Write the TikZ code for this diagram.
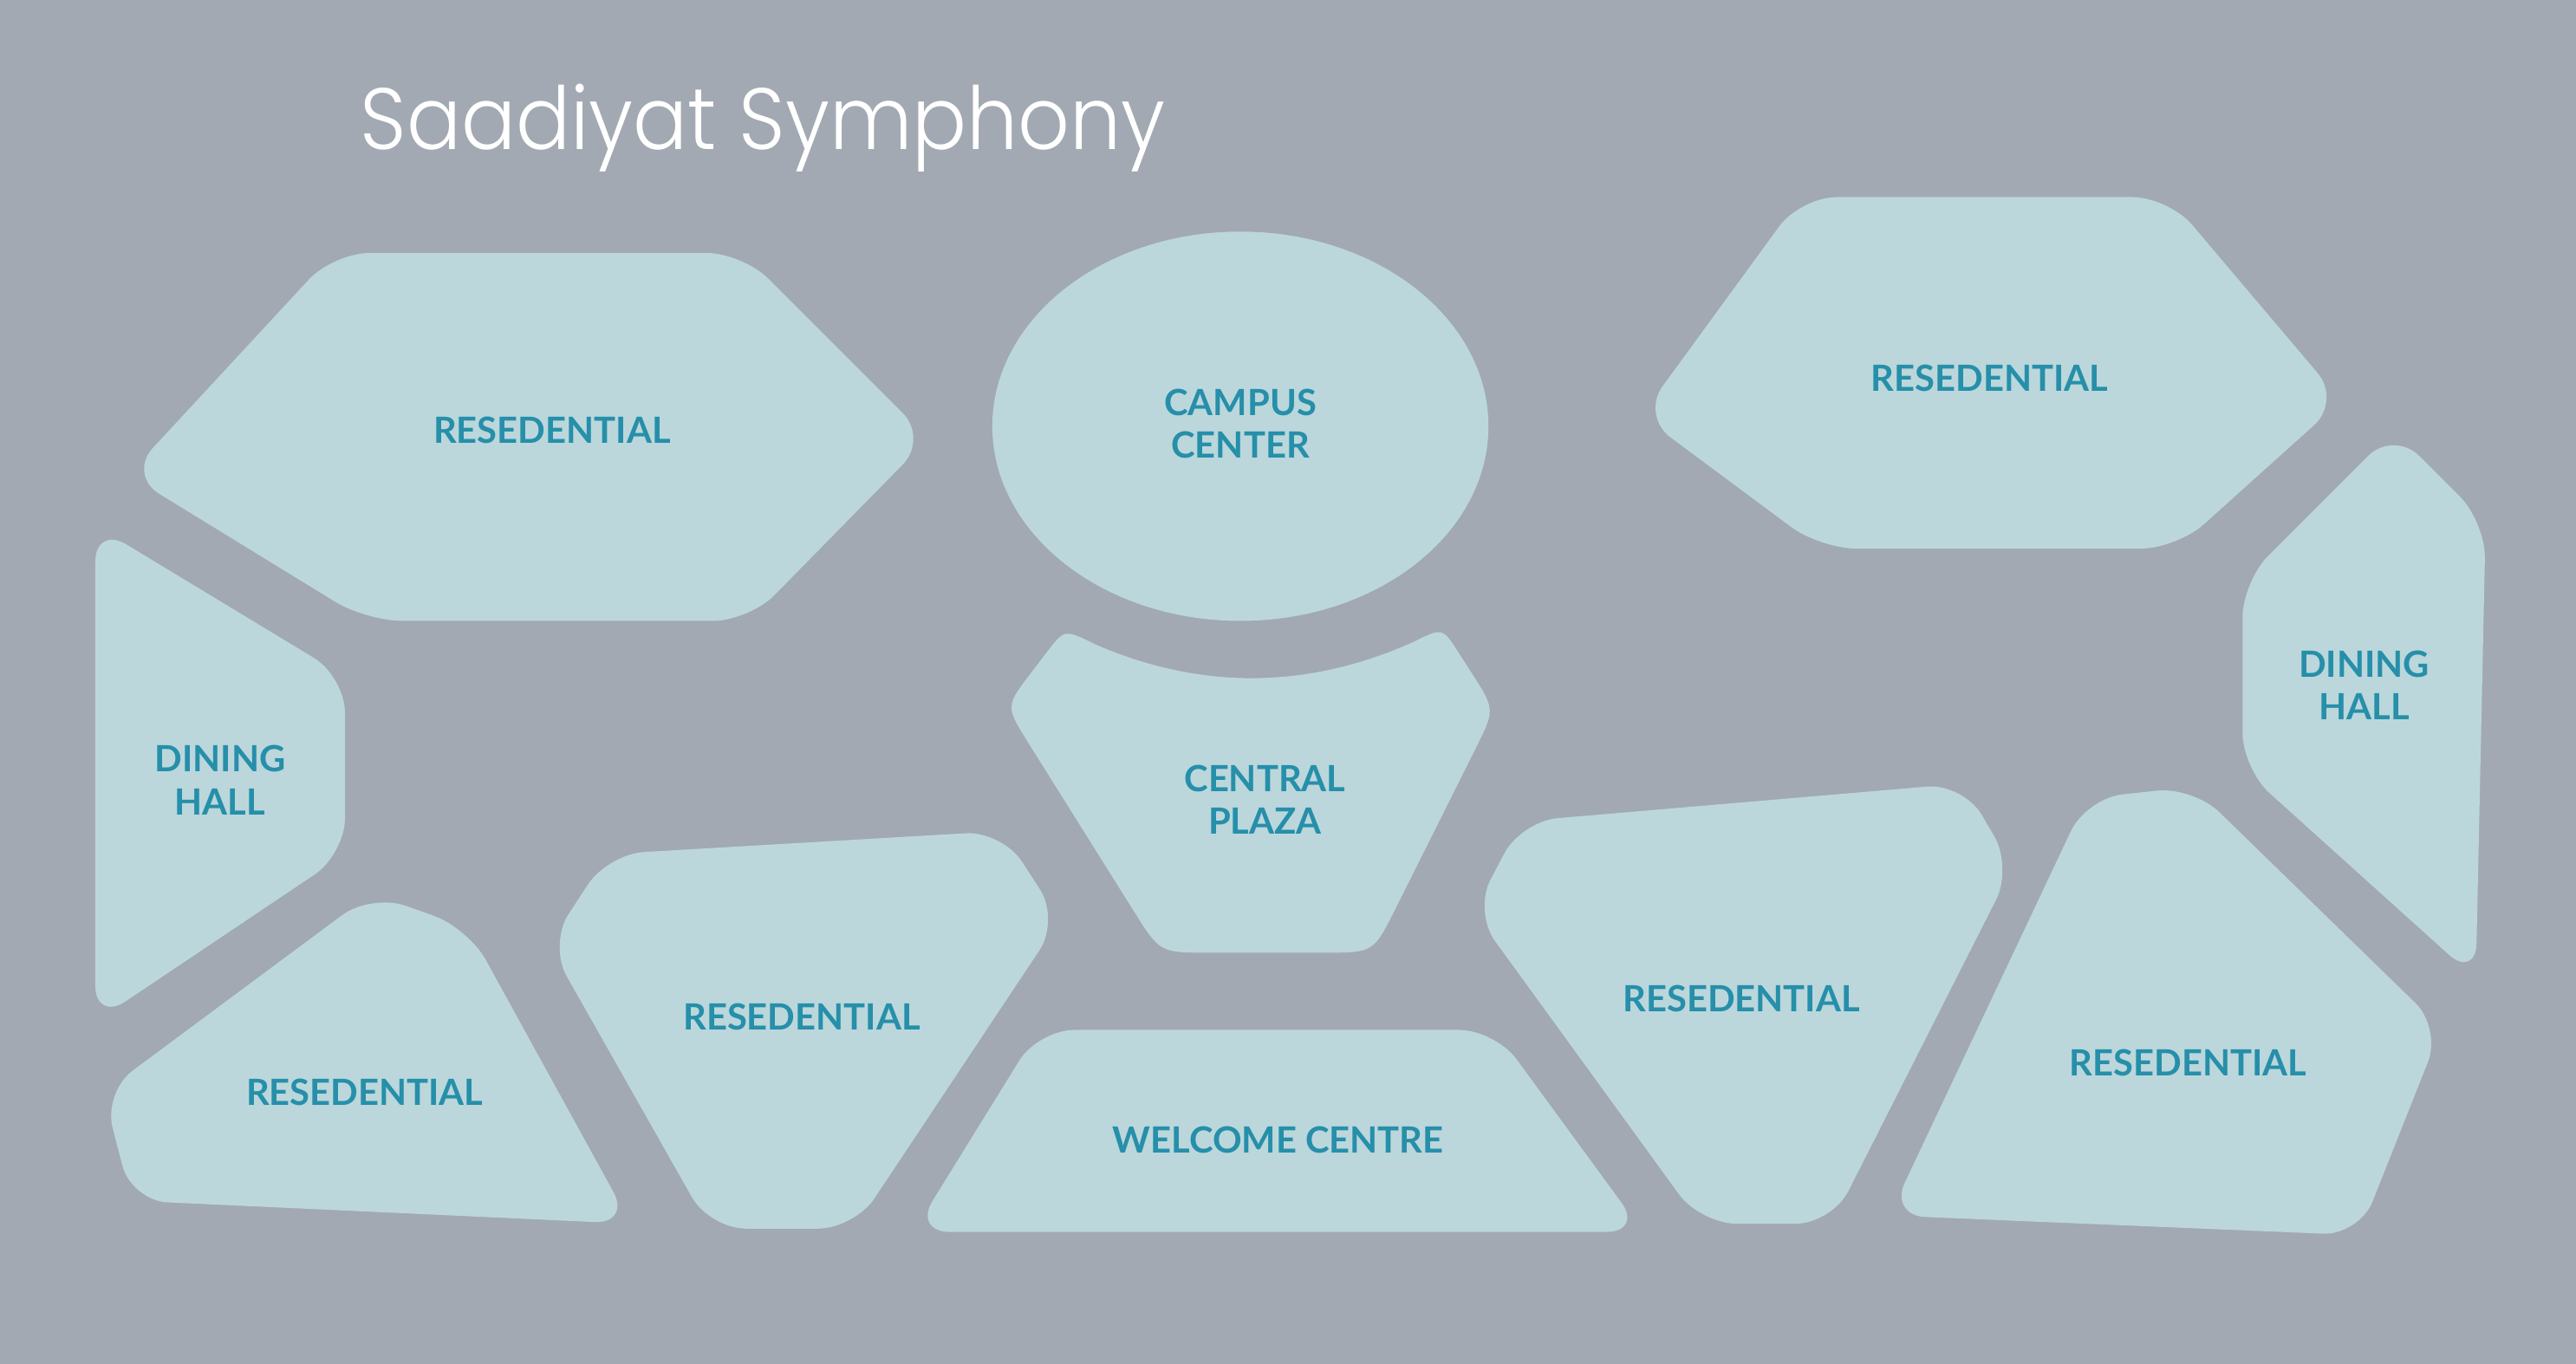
\documentclass[tikz,border=0pt]{standalone}
\usepackage{fontspec}
\setmainfont{Lato}
\IfFontExistsTF{Poppins Light}{\newfontfamily\titlefont{Poppins Light}}{\newfontfamily\titlefont{Poppins}}
\definecolor{bg}{RGB}{162,169,178}
\definecolor{zone}{RGB}{187,215,219}
\definecolor{lab}{RGB}{38,143,170}
\begin{document}
\begin{tikzpicture}[x=0.5pt,y=-0.5pt,
  zonefill/.style={fill=zone, rounded corners=11pt},
  lbl/.style={text=lab, font=\bfseries\fontsize{11}{13}\selectfont, align=center, inner sep=0pt}]
\fill[bg] (0,0) rectangle (1568,830.4);
\useasboundingbox (0,0) rectangle (1568,830.4);
% title
\node[anchor=base west, inner sep=0pt, text=white, font=\titlefont\fontsize{26.5}{30}\selectfont] (title) at (219,91) {\scalebox{0.93}[1]{Saadiyat Symphony}};
% top-left residential hexagon
\fill[zonefill] (203,154) -- (452,154) -- (565,267) -- (456,378) -- (223,378) -- (78,289) -- cycle;
% campus center
\fill[zone] (755,259.5) ellipse [x radius=151, y radius=118.5];
% top-right residential hexagon
\fill[zonefill] (1096,120) -- (1320,120) -- (1425,244) -- (1325,334) -- (1108,334) -- (999,253) -- cycle;
% left dining hall
\fill[zonefill] (58,320) -- (210,412) -- (210,520) -- (58,622) -- cycle;
% right dining hall
\fill[zonefill] (1457,262) -- (1513,318) -- (1507,596) -- (1365,468) -- (1365,354) -- cycle;
% central plaza (corners rounded by hand)
\fill[zone] (627.9,409.3) .. controls (612,430) .. (625.8,452)
  -- (690.1,554.6) .. controls (706,580) .. (736,580)
  -- (806,580) .. controls (836,580) .. (849.4,553.2)
  -- (898.4,455.2) .. controls (910,432) .. (896,410.1)
  -- (887.7,397.2) .. controls (878,382) .. (860,391)
  .. controls (795,420) and (730,420) .. (666,392)
  .. controls (648,383) .. (637,397.3) -- cycle;
% bottom-left residential triangle
\fill[zonefill] (226,544) -- (285,565) -- (384,745) -- (80,731) -- (63,665) -- cycle;
% middle-left residential
\fill[zonefill] (370,520) -- (610,506) -- (645,560) -- (520,748) -- (432,748) -- (334,575) -- cycle;
% welcome centre
\fill[zonefill] (632,627) -- (910,627) -- (1000,750) -- (556,750) -- cycle;
% center-right residential
\fill[zonefill] (926,500) -- (1195,477) -- (1225,528) -- (1115,745) -- (1035,745) -- (897,555) -- cycle;
% far-right residential
\fill[zonefill] (1270,486) -- (1335,479) -- (1486,626) -- (1436,752) -- (1150,740) -- cycle;
% labels
\node[lbl] (r1) at (336,262) {RESEDENTIAL};
\node[lbl] (cc) at (755,258) {CAMPUS\\CENTER};
\node[lbl] (r2) at (1211,230) {RESEDENTIAL};
\node[lbl] (dh1) at (134,475) {DINING\\HALL};
\node[lbl] (dh2) at (1439,417) {DINING\\HALL};
\node[lbl] (cp) at (770,487) {CENTRAL\\PLAZA};
\node[lbl] (r3) at (222,665) {RESEDENTIAL};
\node[lbl] (r4) at (488,619) {RESEDENTIAL};
\node[lbl] (wc) at (778,694) {WELCOME CENTRE};
\node[lbl] (r5) at (1060,608) {RESEDENTIAL};
\node[lbl] (r6) at (1332,647) {RESEDENTIAL};
\end{tikzpicture}
\end{document}
